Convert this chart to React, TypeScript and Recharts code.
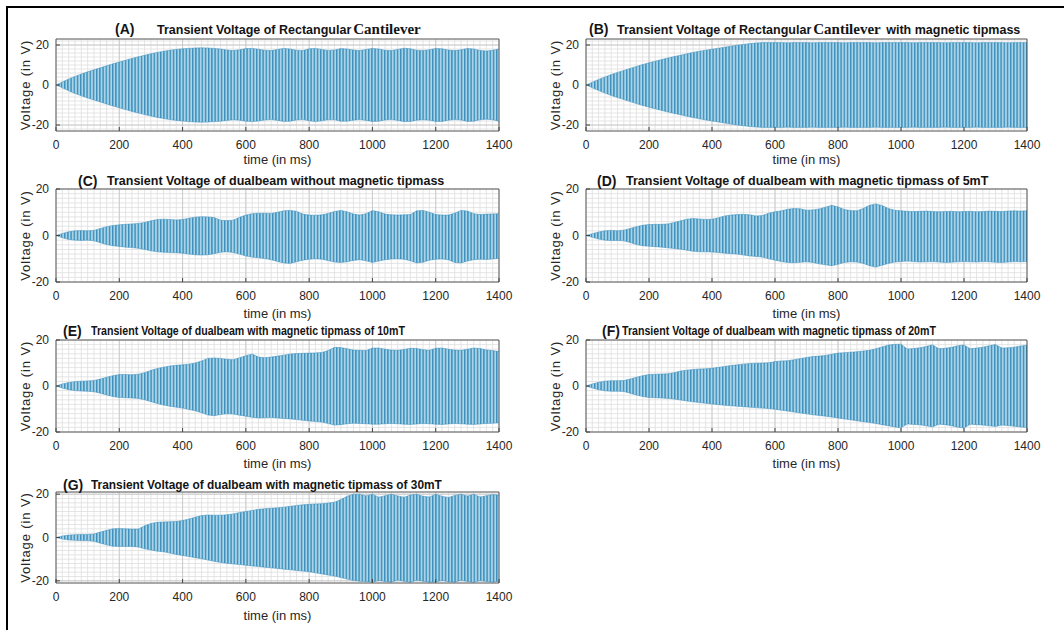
import React from 'react';
import { ComposedChart, Area, XAxis, YAxis, CartesianGrid, ReferenceArea } from 'recharts';

// sampling grid of the envelopes (ms)
const TIME_MS = Array.from({ length: 71 }, (_, i) => i * 20);
const TIME_TICKS = [0, 200, 400, 600, 800, 1000, 1200, 1400];
const VOLT_TICKS = [-20, 0, 20];
const MINOR_TIME = Array.from({ length: 71 }, (_, i) => i * 20);

// envelopes (V) every 20 ms
const A_UPPER = [
  0, 1.5, 3, 4.3, 5.5, 6.6, 7.6, 8.6, 9.6, 10.6,
  11.5, 12.4, 13.3, 14.1, 14.9, 15.6, 16.3, 16.9, 17.4, 17.8,
  18.1, 18.3, 18.5, 18.6, 18.5, 18.3, 18.0, 17.5, 17.2, 17.6,
  18.2, 18.3, 17.9, 17.4, 17.2, 17.8, 18.3, 18.0, 17.4, 17.2,
  18.1, 18.3, 17.8, 17.3, 17.5, 18.2, 18.0, 17.5, 17.2, 17.8,
  18.3, 18.0, 17.4, 17.2, 17.8, 18.4, 18.1, 17.4, 17.3, 17.6,
  18.3, 18.1, 17.5, 17.2, 17.6, 18.3, 18.0, 17.3, 17.0, 17.4,
  18.0,
];
const A_LOWER = [
  0, -1.4, -2.9, -4.2, -5.4, -6.5, -7.5, -8.5, -9.5, -10.5,
  -11.4, -12.3, -13.2, -14.0, -14.8, -15.5, -16.2, -16.8, -17.3, -17.7,
  -18.0, -18.3, -18.5, -18.6, -18.5, -18.3, -18.1, -17.7, -17.4, -17.6,
  -18.1, -18.3, -18.0, -17.5, -17.3, -17.7, -18.2, -18.1, -17.5, -17.3,
  -17.9, -18.3, -17.9, -17.4, -17.4, -18.1, -18.1, -17.6, -17.3, -17.7,
  -18.2, -18.1, -17.5, -17.3, -17.7, -18.3, -18.2, -17.6, -17.4, -17.6,
  -18.2, -18.2, -17.6, -17.3, -17.5, -18.2, -18.1, -17.4, -17.1, -17.4,
  -18.1,
];
const B_UPPER = [
  0, 1.4, 2.8, 4.0, 5.2, 6.3, 7.3, 8.3, 9.3, 10.2,
  11.1, 11.9, 12.7, 13.5, 14.2, 14.9, 15.6, 16.3, 16.9, 17.4,
  17.9, 18.4, 18.9, 19.4, 19.9, 20.3, 20.7, 21.0, 21.2, 21.2,
  21.2, 21.2, 21.1, 21.2, 21.2, 21.2, 21.1, 21.2, 21.2, 21.2,
  21.2, 21.1, 21.2, 21.2, 21.2, 21.2, 21.1, 21.2, 21.2, 21.2,
  21.2, 21.2, 21.1, 21.2, 21.2, 21.2, 21.2, 21.1, 21.2, 21.2,
  21.2, 21.2, 21.1, 21.2, 21.2, 21.2, 21.2, 21.1, 21.2, 21.2,
  21.2,
];
const B_LOWER = [
  0, -1.4, -2.8, -4.0, -5.2, -6.3, -7.3, -8.3, -9.3, -10.2,
  -11.1, -11.9, -12.7, -13.5, -14.2, -14.9, -15.6, -16.3, -16.9, -17.5,
  -18.0, -18.5, -19.0, -19.5, -20.0, -20.4, -20.8, -21.0, -21.2, -21.2,
  -21.2, -21.2, -21.1, -21.2, -21.2, -21.2, -21.1, -21.2, -21.2, -21.2,
  -21.2, -21.1, -21.2, -21.2, -21.2, -21.2, -21.1, -21.2, -21.2, -21.2,
  -21.2, -21.2, -21.1, -21.2, -21.2, -21.2, -21.2, -21.1, -21.2, -21.2,
  -21.2, -21.2, -21.1, -21.2, -21.2, -21.2, -21.2, -21.1, -21.2, -21.2,
  -21.2,
];
const C_UPPER = [
  0, 0.9, 1.6, 2.0, 2.1, 2.0, 2.2, 3.0, 3.8, 4.3,
  4.6, 4.8, 5.0, 5.2, 5.6, 6.3, 6.9, 7.0, 6.9, 6.7,
  6.9, 7.4, 7.9, 8.1, 8.0, 7.7, 6.6, 6.4, 6.6, 7.8,
  8.8, 9.4, 9.6, 9.6, 9.5, 10.0, 10.6, 10.8, 10.4, 9.2,
  8.8, 8.7, 8.9, 9.5, 10.3, 10.8, 10.2, 9.2, 8.8, 9.4,
  10.7, 10.2, 9.2, 8.9, 8.8, 8.9, 9.0, 10.6, 10.8, 10.0,
  9.0, 8.8, 8.8, 9.6, 10.8, 10.5, 9.4, 9.0, 9.2, 9.3,
  9.4,
];
const C_LOWER = [
  0, -1.0, -1.7, -2.0, -2.1, -2.0, -2.3, -3.1, -3.9, -4.4,
  -4.7, -5.0, -5.2, -5.5, -6.0, -6.6, -7.0, -7.2, -7.3, -7.4,
  -7.6, -8.0, -8.3, -8.4, -8.3, -7.8, -7.2, -7.0, -7.3, -8.0,
  -8.8, -9.3, -9.6, -9.9, -10.4, -11.2, -11.8, -12.0, -11.3, -10.6,
  -10.2, -10.0, -10.2, -10.8, -11.4, -11.6, -11.3, -10.7, -10.4, -10.9,
  -11.6, -11.0, -10.4, -10.1, -10.0, -10.2, -10.9, -11.8, -11.5, -10.6,
  -10.2, -10.1, -10.4, -11.6, -11.8, -11.0, -10.4, -10.2, -10.3, -10.1,
  -9.8,
];
const D_UPPER = [
  0, 0.8, 1.5, 2.0, 2.2, 2.0, 2.3, 3.0, 3.8, 4.4,
  4.7, 4.8, 4.8, 5.0, 5.6, 6.3, 7.0, 7.3, 7.1, 6.9,
  7.0, 7.6, 8.4, 8.8, 9.0, 9.1, 8.9, 8.4, 8.6, 9.6,
  10.2, 10.6, 11.3, 11.6, 11.5, 10.9, 11.0, 11.4, 12.2, 13.0,
  12.3, 11.2, 10.7, 10.6, 11.6, 13.0, 13.6, 12.9, 11.6, 10.9,
  10.6, 10.4, 10.3, 10.4, 10.5, 10.3, 10.2, 10.3, 10.4, 10.2,
  10.3, 10.4, 10.2, 10.3, 10.5, 10.4, 10.3, 10.5, 10.6, 10.5,
  10.6,
];
const D_LOWER = [
  0, -0.8, -1.5, -2.0, -2.2, -2.1, -2.3, -3.0, -3.9, -4.4,
  -4.6, -4.8, -5.0, -5.3, -5.6, -5.9, -6.3, -6.8, -7.0, -7.0,
  -7.1, -7.3, -7.6, -7.8, -8.0, -8.4, -8.8, -9.0, -9.3, -10.0,
  -10.6, -11.2, -11.6, -11.7, -11.5, -11.3, -11.6, -12.2, -12.6, -13.0,
  -12.4, -11.6, -11.3, -11.4, -12.0, -13.0, -13.6, -12.8, -12.0, -11.4,
  -11.2, -11.0, -11.2, -11.4, -11.3, -11.2, -11.4, -11.6, -11.5, -11.3,
  -11.2, -11.3, -11.4, -11.2, -11.3, -11.5, -11.6, -11.4, -11.2, -11.3,
  -11.2,
];
const E_UPPER = [
  0, 0.9, 1.5, 1.9, 2.1, 2.2, 2.4, 3.0, 3.8, 4.5,
  5.0, 5.0, 4.9, 5.1, 5.8, 6.8, 7.6, 8.2, 8.7, 9.0,
  9.2, 9.5, 10.0, 10.9, 12.0, 12.2, 12.0, 11.6, 11.4, 12.3,
  13.2, 13.9, 12.6, 12.3, 12.6, 13.0, 13.4, 13.9, 14.1, 14.2,
  14.3, 14.4, 14.6, 15.4, 16.8, 16.7, 16.2, 15.6, 15.5, 15.4,
  16.5, 16.5, 16.0, 15.6, 15.5, 15.9, 16.4, 16.3, 15.8, 15.5,
  16.4, 16.5, 16.0, 15.6, 15.5, 16.0, 16.5, 16.3, 15.7, 15.4,
  15.0,
];
const E_LOWER = [
  0, -0.9, -1.6, -2.0, -2.2, -2.3, -2.5, -3.1, -3.9, -4.6,
  -5.0, -5.1, -5.2, -5.4, -6.0, -6.8, -7.6, -8.3, -8.8, -9.2,
  -9.6, -10.2, -10.8, -11.6, -12.6, -12.9, -12.4, -12.1, -12.2, -12.7,
  -13.1, -13.6, -13.9, -13.8, -13.7, -13.9, -14.1, -14.3, -14.6, -14.9,
  -15.2, -15.4, -15.7, -16.3, -17.0, -16.8, -16.4, -16.2, -16.3, -16.4,
  -16.6, -16.6, -16.4, -16.3, -16.4, -16.6, -16.7, -16.5, -16.3, -16.4,
  -16.6, -16.7, -16.5, -16.3, -16.4, -16.6, -16.7, -16.5, -16.3, -16.2,
  -16.0,
];
const F_UPPER = [
  0, 0.9, 1.6, 2.1, 2.3, 2.3, 2.4, 3.0, 3.8, 4.5,
  5.0, 5.1, 5.2, 5.3, 5.8, 6.5, 6.9, 7.2, 7.4, 7.5,
  7.7, 8.1, 8.5, 8.9, 9.2, 9.5, 9.8, 9.9, 10.0, 10.1,
  10.6, 10.9, 11.0, 11.4, 11.9, 12.4, 12.8, 13.0, 13.3, 13.8,
  14.3, 14.5, 14.7, 14.9, 15.2, 15.5, 16.2, 17.0, 17.8, 18.1,
  18.2, 16.1, 16.3, 16.6, 17.2, 17.9, 16.2, 16.4, 16.8, 17.5,
  17.8, 16.2, 16.5, 16.9, 17.5, 18.0, 16.5, 16.6, 16.9, 17.4,
  17.7,
];
const F_LOWER = [
  0, -0.9, -1.6, -2.1, -2.3, -2.3, -2.4, -3.1, -3.9, -4.6,
  -5.0, -5.1, -5.2, -5.4, -5.7, -6.1, -6.5, -6.9, -7.2, -7.5,
  -7.8, -8.1, -8.4, -8.6, -8.8, -9.0, -9.2, -9.4, -9.6, -9.8,
  -10.1, -10.5, -10.9, -11.3, -11.7, -12.1, -12.5, -12.8, -13.1, -13.5,
  -13.9, -14.3, -14.7, -15.1, -15.5, -15.9, -16.3, -16.8, -17.3, -17.8,
  -18.2, -16.5, -16.7, -16.9, -17.3, -17.8, -16.6, -16.8, -17.3, -17.9,
  -18.3, -16.6, -16.8, -17.0, -17.3, -17.6, -17.0, -17.2, -17.5, -17.8,
  -18.0,
];
const G_UPPER = [
  0, 0.7, 1.1, 1.3, 1.4, 1.4, 1.6, 2.5, 3.3, 4.0,
  4.1, 4.0, 3.9, 3.9, 5.4, 6.5, 7.0, 7.2, 7.3, 7.4,
  7.8, 8.5, 9.4, 10.1, 10.4, 10.3, 10.3, 10.5, 10.9, 11.5,
  12.0, 12.5, 13.0, 13.3, 13.5, 13.7, 14.0, 14.4, 14.8, 15.1,
  15.3, 15.5, 15.6, 15.9, 16.3, 17.5, 19.0, 20.0, 20.0, 19.2,
  20.0, 18.6, 19.3, 20.0, 19.2, 18.6, 19.6, 20.0, 19.0, 18.7,
  20.0, 19.0, 18.5, 19.4, 20.0, 19.1, 20.0, 18.7, 19.3, 19.8,
  19.5,
];
const G_LOWER = [
  0, -0.7, -1.1, -1.3, -1.4, -1.4, -1.7, -2.6, -3.4, -4.0,
  -4.1, -4.1, -4.1, -4.4, -5.2, -5.8, -6.3, -6.6, -7.2, -7.8,
  -8.3, -8.8, -9.3, -9.8, -10.4, -11.0, -11.5, -11.9, -12.2, -12.5,
  -12.8, -13.1, -13.4, -13.7, -14.0, -14.3, -14.6, -14.9, -15.2, -15.5,
  -15.8, -16.3, -16.8, -17.3, -17.8, -18.5, -19.2, -19.8, -20.2, -20.3,
  -20.6, -19.8, -20.3, -20.6, -19.6, -20.2, -20.7, -19.7, -20.2, -20.6,
  -20.5, -19.8, -20.4, -20.6, -19.7, -20.3, -20.7, -19.9, -20.3, -20.6,
  -20.2,
];

const SANS = "'Liberation Sans', Arial, Helvetica, sans-serif";
const SERIF = "'Liberation Serif', 'Times New Roman', serif";
const PLOT_LEFT = 56;
const PLOT_TOP = 10;
const RIGHT_PAD = 26;

type Panel = {
  key: string;
  tag: string;
  before: string;
  serif?: string;
  after?: string;
  upper: number[];
  lower: number[];
  yMax: number;
  left: number;
  plotTop: number;
  plotW: number;
  plotH: number;
  tagX: number;
  titleX: number;
  titleY: number;
  titleScale: number;
  xLabelGap: number;
};

const PANELS: Panel[] = [
  {
    key: 'A', tag: '(A)', before: 'Transient Voltage of Rectangular', serif: 'Cantilever',
    upper: A_UPPER, lower: A_LOWER, yMax: 23, left: 0, plotTop: 39, plotW: 443, plotH: 92,
    tagX: 115, titleX: 157, titleY: 29, titleScale: 1, xLabelGap: 28,
  },
  {
    key: 'B', tag: '(B)', before: 'Transient Voltage of Rectangular', serif: 'Cantilever', after: ' with magnetic tipmass',
    upper: B_UPPER, lower: B_LOWER, yMax: 23, left: 530, plotTop: 39, plotW: 441, plotH: 92,
    tagX: 589, titleX: 617, titleY: 29, titleScale: 1, xLabelGap: 28,
  },
  {
    key: 'C', tag: '(C)', before: 'Transient Voltage of dualbeam without magnetic tipmass',
    upper: C_UPPER, lower: C_LOWER, yMax: 20, left: 0, plotTop: 189, plotW: 443, plotH: 93,
    tagX: 78, titleX: 107, titleY: 181, titleScale: 1, xLabelGap: 31,
  },
  {
    key: 'D', tag: '(D)', before: 'Transient Voltage of dualbeam with magnetic tipmass of 5mT',
    upper: D_UPPER, lower: D_LOWER, yMax: 20, left: 530, plotTop: 189, plotW: 441, plotH: 93,
    tagX: 597, titleX: 626, titleY: 181, titleScale: 1, xLabelGap: 31,
  },
  {
    key: 'E', tag: '(E)', before: 'Transient Voltage of dualbeam with magnetic tipmass of 10mT',
    upper: E_UPPER, lower: E_LOWER, yMax: 20, left: 0, plotTop: 340, plotW: 443, plotH: 92,
    tagX: 63, titleX: 91, titleY: 331, titleScale: 0.85, xLabelGap: 31,
  },
  {
    key: 'F', tag: '(F)', before: 'Transient Voltage of dualbeam with magnetic tipmass of 20mT',
    upper: F_UPPER, lower: F_LOWER, yMax: 20, left: 530, plotTop: 340, plotW: 441, plotH: 92,
    tagX: 602, titleX: 622, titleY: 331, titleScale: 0.85, xLabelGap: 31,
  },
  {
    key: 'G', tag: '(G)', before: 'Transient Voltage of dualbeam with magnetic tipmass of 30mT',
    upper: G_UPPER, lower: G_LOWER, yMax: 21, left: 0, plotTop: 492, plotW: 443, plotH: 91,
    tagX: 63, titleX: 91, titleY: 485, titleScale: 0.95, xLabelGap: 32,
  },
];

const TICK_STYLE = { fontSize: 12, fill: '#262626', fontFamily: SANS };

// turn an axis scale from the grid generator into a callable; falls back on the plot offset
const scaleOf = (axis: any, offsetLo: number, offsetLen: number, d0: number, d1: number, flip: boolean) => {
  const sc = axis?.scale;
  if (typeof sc === 'function') return (v: number) => sc(v) as number;
  if (sc && typeof sc.map === 'function') return (v: number) => sc.map(v) as number;
  return (v: number) => {
    const f = (v - d0) / (d1 - d0);
    return flip ? offsetLo + (1 - f) * offsetLen : offsetLo + f * offsetLen;
  };
};

const XLabel = ({ px, py }: { px: number; py: number }) => (
  <text x={px} y={py} textAnchor="middle" dominantBaseline="central" fontSize={13} fill="#262626" fontFamily={SANS}>
    time (in ms)
  </text>
);

const YLabel = ({ px, py }: { px: number; py: number }) => (
  <text
    x={px}
    y={py}
    transform={`rotate(-90 ${px} ${py})`}
    textAnchor="middle"
    dominantBaseline="central"
    fontSize={13}
    letterSpacing={0.9}
    fill="#262626"
    fontFamily={SANS}
  >
    Voltage (in V)
  </text>
);

const PanelTitle = ({ p }: { p: Panel }) => (
  <>
    <div
      style={{
        position: 'absolute', left: p.tagX, top: p.titleY - 9, lineHeight: '18px',
        fontFamily: SANS, fontWeight: 700, fontSize: 14, color: '#141414', whiteSpace: 'pre',
      }}
    >
      {p.tag}
    </div>
    <div
      style={{
        position: 'absolute', left: p.titleX, top: p.titleY - 9, lineHeight: '18px',
        fontFamily: SANS, fontWeight: 700, fontSize: 12.5, color: '#141414', whiteSpace: 'pre',
        transform: `scaleX(${p.titleScale})`, transformOrigin: 'left center',
      }}
    >
      {p.before}
      {p.serif && (
        <span style={{ fontFamily: SERIF, fontSize: 15, marginLeft: 2, marginRight: 2 }}>{p.serif}</span>
      )}
      {p.after}
    </div>
  </>
);

const VoltagePanel = ({ p }: { p: Panel }) => {
  const data = TIME_MS.map((t, i) => ({ t, band: [p.lower[i], p.upper[i]] }));
  const minorVolt: number[] = [];
  for (let v = -Math.floor(p.yMax / 2) * 2; v <= p.yMax; v += 2) minorVolt.push(v);
  const chartW = PLOT_LEFT + p.plotW + RIGHT_PAD;
  const chartH = PLOT_TOP + p.plotH + 40;
  const fillId = `stripes-${p.key}`;

  const vGen = ({ xAxis, offset }: any) => {
    const lo = offset?.left ?? PLOT_LEFT;
    const len = offset?.width ?? p.plotW;
    const s = scaleOf(xAxis, lo, len, 0, 1400, false);
    return MINOR_TIME.map((t) => s(t));
  };
  const hGen = ({ yAxis, offset }: any) => {
    const lo = offset?.top ?? PLOT_TOP;
    const len = offset?.height ?? p.plotH;
    const s = scaleOf(yAxis, lo, len, -p.yMax, p.yMax, true);
    return minorVolt.map((v) => s(v));
  };

  return (
    <div style={{ position: 'absolute', left: p.left, top: p.plotTop - PLOT_TOP }}>
      <ComposedChart
        width={chartW}
        height={chartH}
        data={data}
        margin={{ top: PLOT_TOP, right: RIGHT_PAD, bottom: 0, left: 14 }}
      >
        <defs>
          <pattern id={fillId} patternUnits="userSpaceOnUse" width={3.2} height={8}>
            <rect width={3.2} height={8} fill="#a9d3e6" />
            <rect width={1.4} height={8} fill="#3a8ebd" />
          </pattern>
        </defs>
        <CartesianGrid
          stroke="#dedede"
          strokeWidth={0.8}
          verticalCoordinatesGenerator={vGen}
          horizontalCoordinatesGenerator={hGen}
        />
        <CartesianGrid stroke="#c4c4c4" strokeWidth={0.8} />
        <XAxis
          dataKey="t"
          type="number"
          domain={[0, 1400]}
          ticks={TIME_TICKS}
          interval={0}
          allowDataOverflow
          axisLine={false}
          tickSize={-4}
          tickMargin={13}
          tickLine={{ stroke: '#444' }}
          tick={TICK_STYLE}
          height={40}
          label={<XLabel px={PLOT_LEFT + p.plotW / 2} py={PLOT_TOP + p.plotH + p.xLabelGap} />}
        />
        <YAxis
          type="number"
          domain={[-p.yMax, p.yMax]}
          ticks={VOLT_TICKS}
          interval={0}
          allowDataOverflow
          axisLine={false}
          tickSize={-4}
          tickMargin={11}
          tickLine={{ stroke: '#444' }}
          tick={TICK_STYLE}
          width={42}
          label={<YLabel px={25} py={PLOT_TOP + p.plotH / 2} />}
        />
        <Area
          type="linear"
          dataKey="band"
          stroke="#3a8ebd"
          strokeWidth={0.5}
          fill={`url(#${fillId})`}
          fillOpacity={1}
          dot={false}
          activeDot={false}
          isAnimationActive={false}
        />
        <ReferenceArea
          x1={0}
          x2={1400}
          y1={-p.yMax}
          y2={p.yMax}
          fill="none"
          stroke="#4a4a4a"
          strokeWidth={0.8}
          ifOverflow="visible"
        />
      </ComposedChart>
    </div>
  );
};

export default function App() {
  return (
    <div
      style={{
        position: 'absolute', left: 0, top: 0, width: 1064, height: 630,
        background: '#fff', overflow: 'hidden',
      }}
    >
      <div
        style={{
          position: 'absolute', left: 6, top: 6, width: 1058, height: 624,
          borderTop: '2px solid #000', borderLeft: '2px solid #000', boxSizing: 'border-box',
        }}
      />
      {PANELS.map((p) => (
        <VoltagePanel key={p.key} p={p} />
      ))}
      {PANELS.map((p) => (
        <PanelTitle key={`t-${p.key}`} p={p} />
      ))}
    </div>
  );
}
